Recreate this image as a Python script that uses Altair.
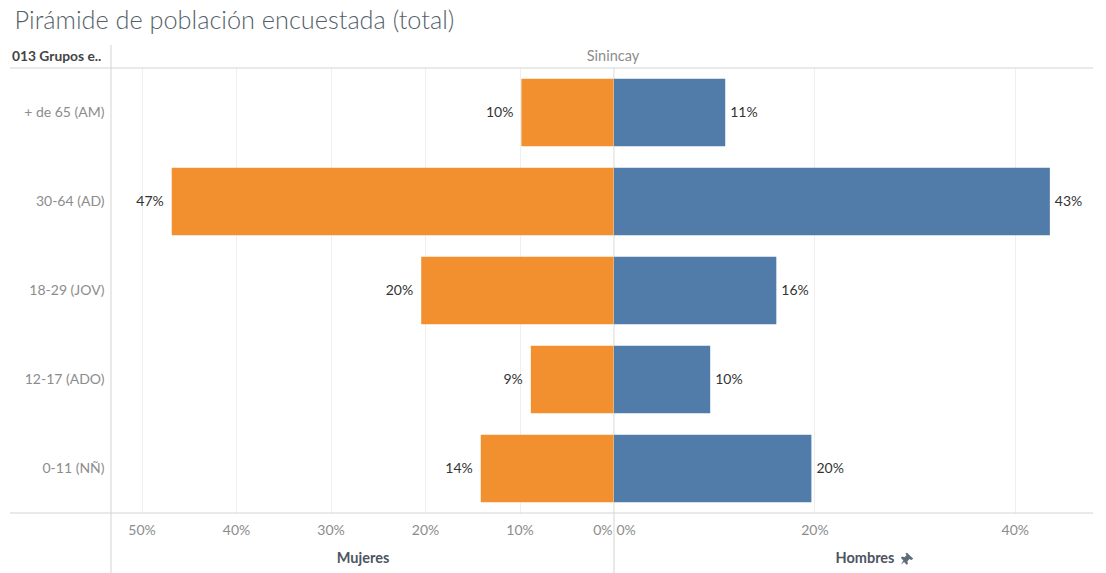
import altair as alt
import pandas as pd

groups = ["+ de 65 (AM)", "30-64 (AD)", "18-29 (JOV)", "12-17 (ADO)", "0-11 (NÑ)"]
mujeres = [9.8, 46.8, 20.4, 8.8, 14.1]
hombres = [11.1, 43.5, 16.2, 9.6, 19.7]
mujeres_labels = ["10%", "47%", "20%", "9%", "14%"]
hombres_labels = ["11%", "43%", "16%", "10%", "20%"]
left_ticks = [0, 10, 20, 30, 40, 50]
right_ticks = [0, 20, 40]

FONT = "Lato"
W_L, W_R, H = 503, 479, 445
LINE = "#d4d4d4"
PIN = ("M-0.15,-0.75 L0.75,0.1 L0.45,0.3 L0.2,0.15 L-0.1,0.5 L0,0.8 L-0.2,0.95 L-0.55,0.55 "
       "L-1,0.95 L-0.65,0.35 L-1,0 L-0.85,-0.2 L-0.5,-0.1 L-0.2,-0.4 L-0.35,-0.65 Z")

dfm = pd.DataFrame({"grupo": groups, "v": mujeres, "t": mujeres_labels})
dfh = pd.DataFrame({"grupo": groups, "v": hombres, "t": hombres_labels})
one = pd.DataFrame({"a": [0]})
band = alt.Scale(paddingInner=0.24, paddingOuter=0.12)


def axis(vals, title, **kw):
    return alt.Axis(values=vals, format=".0f", labelExpr="datum.value + '%'", title=title,
                    domain=False, ticks=False, grid=True, gridColor="#efefef", gridWidth=1,
                    labelColor="#8c8c8c", labelFontSize=14, labelFont=FONT, labelPadding=10,
                    labelFlush=1, labelFlushOffset=-2,
                    titleFont=FONT, titleFontSize=14.5, titleFontWeight="bold", titleColor="#4d5560",
                    **kw)


def rule(x=None, x2=None, yv=None, y2=None):
    return alt.Chart(one).mark_rule(color=LINE, strokeWidth=1).encode(
        x=alt.value(x), x2=alt.value(x2), y=alt.value(yv), y2=alt.value(y2))


xl = alt.X("v:Q", scale=alt.Scale(domain=[0, W_L / 9.45], reverse=True, nice=False),
           axis=axis(left_ticks, "Mujeres", titleY=38))
yl = alt.Y("grupo:N", sort=groups, scale=band, title=None,
           axis=alt.Axis(domain=False, ticks=False, grid=False, labelColor="#8c8c8c",
                         labelFontSize=14, labelFont=FONT, labelPadding=7))
bars_l = alt.Chart(dfm).mark_bar(color="#F28E2B", opacity=0.98).encode(x=xl, y=yl)
text_l = alt.Chart(dfm).mark_text(align="right", dx=-8, font=FONT, fontSize=14, color="#333333").encode(
    x=xl, y=yl, text="t:N")
head = alt.Chart(pd.DataFrame({"t": ["013 Grupos e.."]})).mark_text(
    align="left", baseline="middle", font=FONT, fontSize=13.8, fontWeight="bold", color="#444444"
).encode(x=alt.value(-99), y=alt.value(-11), text="t:N")
sin = alt.Chart(pd.DataFrame({"t": ["Sinincay"]})).mark_text(
    align="center", baseline="middle", font=FONT, fontSize=14.5, color="#8c8c8c"
).encode(x=alt.value(W_L - 1), y=alt.value(-11), text="t:N")

left = alt.layer(
    bars_l, text_l, head, sin,
    rule(-101, W_L, 0, 0), rule(-101, W_L, H, H),
    rule(0, 0, -23, H + 60), rule(W_L, W_L, 0, H + 60),
).properties(width=W_L, height=H)

xr = alt.X("v:Q", scale=alt.Scale(domain=[0, W_R / 10.02], nice=False),
           axis=axis(right_ticks, None))
ry = alt.Y("grupo:N", sort=groups, scale=band, axis=None)
bars_r = alt.Chart(dfh).mark_bar(color="#4E79A7", opacity=0.98).encode(x=xr, y=ry)
text_r = alt.Chart(dfh).mark_text(align="left", dx=5, font=FONT, fontSize=14, color="#333333").encode(
    x=xr, y=ry, text="t:N")
hom = alt.Chart(pd.DataFrame({"t": ["Hombres"]})).mark_text(
    align="center", baseline="middle", font=FONT, fontSize=14.5, fontWeight="bold", color="#4d5560"
).encode(x=alt.value(251), y=alt.value(H + 46), text="t:N")
pin = alt.Chart(one).mark_point(shape=PIN, filled=True, color="#5f6b78", opacity=1, size=200).encode(
    x=alt.value(294), y=alt.value(H + 45))
right = alt.layer(
    bars_r, text_r, hom, pin,
    rule(0, W_R, 0, 0), rule(0, W_R, H, H),
).properties(width=W_R, height=H)

chart = alt.hconcat(left, right, spacing=0, bounds="flush").properties(
    title=alt.TitleParams("Pirámide de población encuestada (total)", anchor="start", font=FONT,
                          fontSize=25.3, fontWeight=300, color="#555f69", offset=10, dx=5),
    padding={"left": 1, "top": 1, "right": 0, "bottom": 0},
).configure_view(stroke=None)

chart.save("out.html", embed_options={"renderer": "svg", "actions": False})
